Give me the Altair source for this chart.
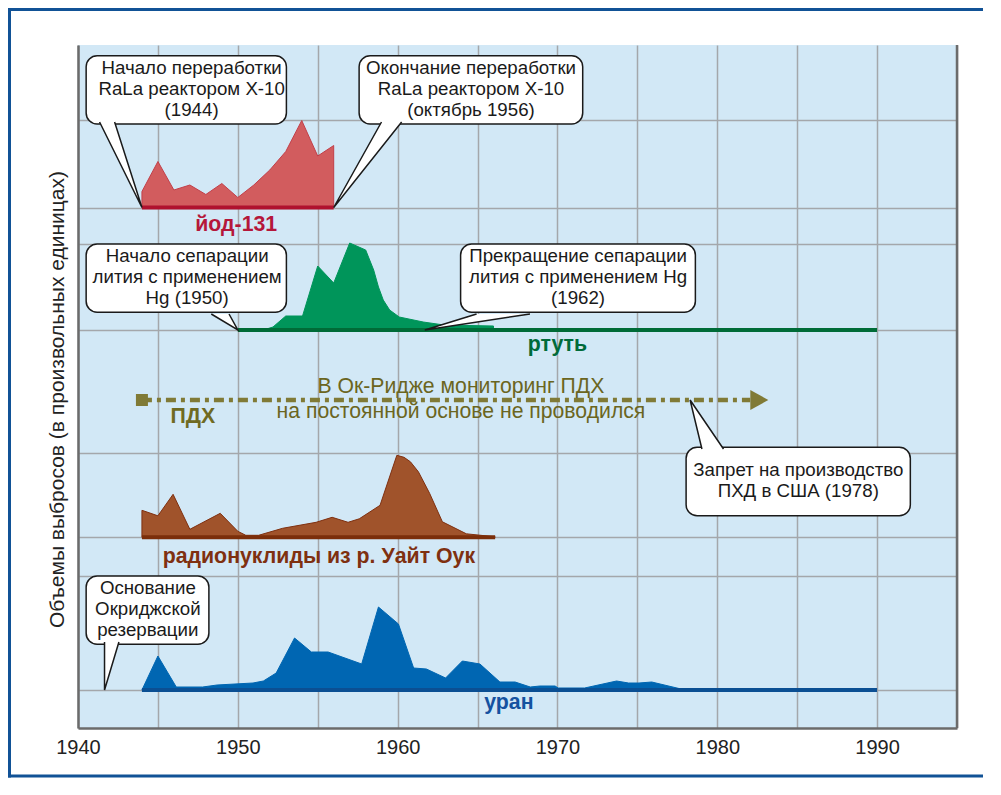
import altair as alt
import pandas as pd

FONT = "Liberation Sans"

# ---------------- data ----------------
iodine_years = [1944, 1944.001, 1945, 1946, 1947, 1948, 1949, 1950, 1951, 1952, 1953, 1954, 1955, 1955.999, 1956]
iodine_vals = [0, 16, 46, 17.5, 22.5, 13, 24, 10, 22.5, 37.5, 56, 87, 51.5, 62, 0]

mercury_years = [1950, 1951.6, 1952.2, 1953.0, 1954.05, 1955.0, 1956.0, 1957.0, 1958.0, 1958.5, 1958.8,
                 1959.1, 1959.5, 1960.1, 1961.6, 1962.9, 1965.999, 1966.0]
mercury_vals = [0, 0, 3, 14, 14, 64, 47, 87, 80, 60, 43, 30, 20, 13, 8, 5, 4, 0]

radio_years = [1944, 1944.001, 1945, 1945.95, 1947, 1948.9, 1950, 1950.5, 1951.3, 1952.8, 1954.9, 1955.9,
               1956.9, 1957.6, 1958.9, 1959.95, 1960.4, 1960.8, 1961.3, 1962.0, 1962.8, 1964.3, 1966.1]
radio_vals = [0, 27, 21.5, 43, 8, 24, 6, 2, 2, 9, 15, 20, 15, 18.5, 32, 82, 80, 75.5, 65.5, 44, 15.5, 3.5, 0.5]

uranium_years = [1944, 1945, 1946.15, 1947.8, 1948.7, 1950.95, 1951.6, 1952.4, 1953.55, 1954.6, 1955.65,
                 1957.75, 1958.8, 1960.05, 1961.0, 1961.8, 1963.0, 1964.05, 1965.15, 1966.4, 1967.35,
                 1968.3, 1968.9, 1969.85, 1970.05, 1971.7, 1973.7, 1974.45, 1975.1, 1975.9, 1978.0]
uranium_vals = [0, 34, 3, 3, 5, 7, 9, 17, 52, 38, 38, 26, 83, 66, 22, 21, 12, 29, 26, 8, 8, 3, 4, 4, 2, 2,
                9, 7, 7, 8, 0]

# band baselines (arbitrary units) and extents of the thick base lines
series_base = [520.5, 398, 190.7, 38]
series_start = [1944, 1950, 1944, 1944]
series_end = [1956, 1990, 1966.1, 1990]
series_fill = ["#d25c5e", "#00955a", "#a0532b", "#0066b2"]
series_edge = ["#c23f49", "#00955a", "#7f3010", "#0066b2"]
series_line = ["#b0112e", "#006b37", "#7b2e0a", "#0b4f93"]

series_labels = ["йод-131", "ртуть", "радионуклиды из р. Уайт Оук", "уран"]
series_label_x = [1949.9, 1970.0, 1955.07, 1966.96]
series_label_y = [503, 383, 171, 25]
series_label_color = ["#b5173a", "#006b3a", "#7f3010", "#1552a0"]

grid_y = [608.5, 520.5, 484, 398, 274.7, 190.7, 152.3, 38]
x_ticks = list(range(1940, 1996, 5))

# PCB (ПДХ) monitoring line
pcb_start, pcb_end, pcb_level = 1944, 1982.06, 328
pcb_arrow_x = 1982.63
pcb_label = "ПДХ"
pcb_label_x, pcb_label_y = 1947.19, 310.7
pcb_note = "В Ок-Ридже мониторинг ПДХ\nна постоянной основе не проводился"
pcb_note_x, pcb_note_y = 1963.96, 341.3

# callouts
box_x1 = [1940.51, 1957.59, 1940.51, 1963.94, 1940.51, 1978.05]
box_x2 = [1953.04, 1971.58, 1953.04, 1978.63, 1948.19, 1992.08]
box_y1 = [604, 604, 415.7, 415.7, 83.7, 212.3]
box_y2 = [672.3, 672.3, 484, 484, 152, 280.7]
box_text = [
    "Начало переработки\nRaLa реактором X-10\n(1944)",
    "Окончание переработки\nRaLa реактором X-10\n(октябрь 1956)",
    "Начало сепарации\nлития с применением\nHg (1950)",
    "Прекращение сепарации\nлития с применением Hg\n(1962)",
    "Основание\nОкриджской\nрезервации",
    "Запрет на производство\nПХД в США (1978)",
]
box_text_x = [1947.11, 1964.59, 1946.83, 1971.29, 1944.37, 1985.07]
box_text_y = [660.3, 660.3, 472, 472, 139.7, 258]
# pointer wedges: base1, tip, base2
ptr_x = [[1941.35, 1944.0, 1942.29], [1958.99, 1956.0, 1960.25], [1948.34, 1950.0, 1949.45],
         [1964.94, 1961.7, 1968.28], [1941.66, 1941.66, 1942.56], [1979.04, 1978.3, 1980.39]]
ptr_y = [[606, 520.5, 606], [606, 520.5, 606], [414, 398, 414],
         [414, 398, 414], [86, 38, 86], [279, 328, 279]]

# ---------------- scales / axes ----------------
xs = alt.Scale(domain=[1940, 1995], nice=False, zero=False)
ys = alt.Scale(domain=[0, 683], nice=False, zero=False)
AX_COL = "#6b6b6b"
GRID_COL = "#a4a7ab"
x_axis = alt.Axis(values=x_ticks, format="d",
                  labelExpr="datum.value % 10 === 0 ? datum.label : ''",
                  ticks=False, grid=True, gridColor=GRID_COL, gridWidth=1.5,
                  domainColor=AX_COL, domainWidth=2.5, labelFontSize=20, labelColor="#222222",
                  labelFont=FONT, labelPadding=9, labelFlush=False, labelOverlap=False, title=None)
y_axis = alt.Axis(values=grid_y, labels=False, ticks=False, grid=True, gridColor=GRID_COL,
                  gridWidth=1.5, domainColor=AX_COL, domainWidth=2.5,
                  title="Объемы выбросов (в произвольных единицах)", titleFont=FONT,
                  titleFontSize=21, titleFontWeight="normal", titleColor="#222222", titlePadding=11,
                  titleY=354)


def X(f="x"):
    return alt.X(f"{f}:Q", scale=xs, axis=x_axis)


def Y(f="y"):
    return alt.Y(f"{f}:Q", scale=ys, axis=y_axis)


layers = []

# areas and base lines
all_years = [iodine_years, mercury_years, radio_years, uranium_years]
all_vals = [iodine_vals, mercury_vals, radio_vals, uranium_vals]
for k in range(4):
    df = pd.DataFrame({"x": all_years[k], "v": all_vals[k]})
    df["y"] = df["v"] + series_base[k]
    df["b"] = series_base[k]
    layers.append(
        alt.Chart(df).mark_area(color=series_fill[k], stroke=series_edge[k], strokeWidth=1,
                                opacity=1, interpolate="linear")
        .encode(x=X(), y=Y(), y2="b:Q")
    )
base_df = pd.DataFrame({"x": series_start, "x2": series_end, "y": series_base, "c": series_line})
layers.append(
    alt.Chart(base_df).mark_rule(strokeWidth=4).encode(
        x=X(), x2="x2:Q", y=Y(), color=alt.Color("c:N", scale=None))
)

# right border of the plot
layers.append(
    alt.Chart(pd.DataFrame({"x": [1995]})).mark_rule(color=AX_COL, strokeWidth=2.5).encode(x=X())
)

# PCB line
PCB_COL = "#807a36"
pcb_df = pd.DataFrame({"x": [pcb_start], "x2": [pcb_end], "y": [pcb_level]})
layers.append(
    alt.Chart(pcb_df).mark_rule(color=PCB_COL, strokeWidth=4.5, strokeDash=[10, 5, 4, 5])
    .encode(x=X(), x2="x2:Q", y=Y())
)
layers.append(
    alt.Chart(pd.DataFrame({"x": [pcb_start], "y": [pcb_level]}))
    .mark_square(size=144, color=PCB_COL, filled=True, opacity=1).encode(x=X(), y=Y())
)
layers.append(
    alt.Chart(pd.DataFrame({"x": [pcb_arrow_x], "y": [pcb_level]}))
    .mark_point(shape="M-0.9,-1L0.9,0L-0.9,1Z", size=400, color=PCB_COL, filled=True, opacity=1)
    .encode(x=X(), y=Y())
)

# callout boxes
box_df = pd.DataFrame({"x": box_x1, "x2": box_x2, "y": box_y1, "y2": box_y2})
layers.append(
    alt.Chart(box_df).mark_rect(fill="white", stroke="#1a1a1a", strokeWidth=1.5, cornerRadius=11)
    .encode(x=X(), x2="x2:Q", y=Y(), y2="y2:Q")
)
rows = []
for j in range(len(ptr_x)):
    for i in range(3):
        rows.append({"x": ptr_x[j][i], "y": ptr_y[j][i], "id": j, "i": i})
ptr_df = pd.DataFrame(rows)
layers.append(
    alt.Chart(ptr_df).mark_line(fill="white", stroke="#1a1a1a", strokeWidth=1.5, strokeJoin="miter")
    .encode(x=X(), y=Y(), detail="id:N", order="i:Q")
)
txt_df = pd.DataFrame({"x": box_text_x, "y": box_text_y, "t": box_text})
layers.append(
    alt.Chart(txt_df).mark_text(font=FONT, fontSize=18.7, lineHeight=21, lineBreak="\n",
                                align="center", baseline="middle", color="#1a1a1a")
    .encode(x=X(), y=Y(), text="t:N")
)

# series labels
lab_df = pd.DataFrame({"x": series_label_x, "y": series_label_y, "t": series_labels,
                       "c": series_label_color})
layers.append(
    alt.Chart(lab_df).mark_text(font=FONT, fontSize=21.3, fontWeight="bold", align="center",
                                baseline="middle")
    .encode(x=X(), y=Y(), text="t:N", color=alt.Color("c:N", scale=None))
)
layers.append(
    alt.Chart(pd.DataFrame({"x": [pcb_label_x], "y": [pcb_label_y], "t": [pcb_label]}))
    .mark_text(font=FONT, fontSize=21.3, fontWeight="bold", align="center", baseline="middle",
               color="#6f6a22")
    .encode(x=X(), y=Y(), text="t:N")
)
layers.append(
    alt.Chart(pd.DataFrame({"x": [pcb_note_x], "y": [pcb_note_y], "t": [pcb_note]}))
    .mark_text(font=FONT, fontSize=21.2, lineHeight=25, lineBreak="\n", align="center",
               baseline="middle", color="#6b6520")
    .encode(x=X(), y=Y(), text="t:N")
)

# outer frame: thin filled bars on the left, top and bottom
FRAME = "#115296"
one = pd.DataFrame({"a": [0]})
layers.append(alt.Chart(one).mark_rect(color=FRAME, opacity=1).encode(
    x=alt.value(-70), x2=alt.value(-67), y=alt.value(-37), y2=alt.value(732.5)))
layers.append(alt.Chart(one).mark_rect(color=FRAME, opacity=1).encode(
    x=alt.value(-70), x2=alt.value(905), y=alt.value(-37), y2=alt.value(-34)))
layers.append(alt.Chart(one).mark_rect(color=FRAME, opacity=1).encode(
    x=alt.value(-70), x2=alt.value(905), y=alt.value(729.5), y2=alt.value(732.5)))

chart = alt.layer(*layers).properties(
    width=879, height=683,
    padding={"left": 70, "top": 37, "right": 36, "bottom": 50},
    autosize=alt.AutoSizeParams(type="none"),
    background="white",
).configure_view(stroke=None, fill="#d2e8f6")

chart.save("out.html", embed_options={"renderer": "svg", "actions": False})
